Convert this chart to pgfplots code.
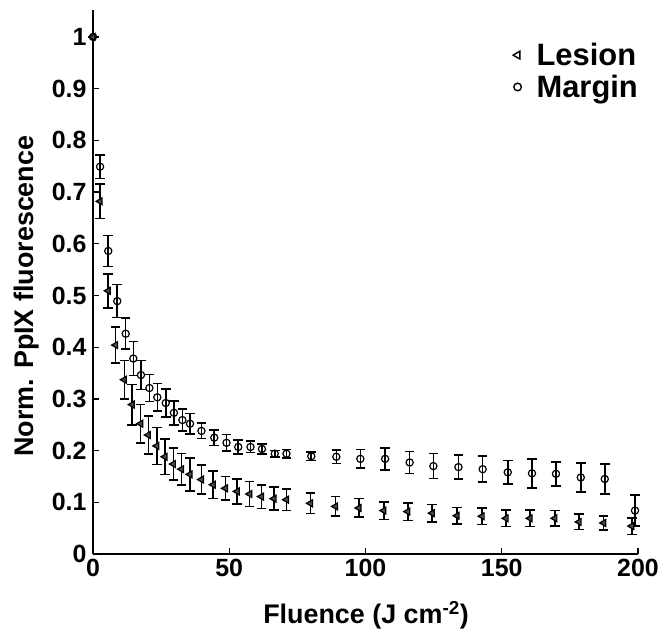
\documentclass[border=0pt]{standalone}
\usepackage{pgfplots}
\pgfplotsset{compat=1.18}
\usepackage{fontspec}
\setmainfont{Liberation Sans}

\pgfplotstableread{
x y e
0 1.0 0
2.6 0.682 0.033
5.6 0.509 0.033
8.3 0.404 0.035
11.5 0.337 0.037
14.4 0.289 0.039
17.5 0.252 0.037
20.3 0.230 0.037
23.4 0.209 0.036
26.4 0.188 0.034
29.5 0.174 0.031
32.5 0.164 0.030
35.6 0.154 0.032
39.8 0.144 0.028
44.1 0.134 0.027
48.6 0.127 0.023
52.9 0.121 0.024
57.5 0.116 0.024
61.8 0.111 0.023
66.4 0.107 0.022
71.0 0.105 0.021
79.8 0.098 0.020
89.0 0.092 0.019
97.6 0.089 0.018
106.7 0.084 0.017
115.5 0.082 0.017
124.5 0.079 0.017
133.6 0.074 0.016
142.8 0.073 0.016
151.6 0.069 0.016
160.4 0.069 0.016
169.5 0.069 0.015
178.4 0.062 0.015
187.4 0.060 0.014
197.7 0.054 0.016
}\lesion

\pgfplotstableread{
x y e
0 1.0 0
2.6 0.749 0.023
5.6 0.586 0.030
8.9 0.489 0.032
12.0 0.426 0.030
14.8 0.378 0.033
17.6 0.346 0.028
20.7 0.321 0.026
23.6 0.303 0.027
26.7 0.292 0.027
29.7 0.273 0.023
32.8 0.259 0.021
35.6 0.252 0.020
39.8 0.238 0.015
44.5 0.225 0.015
49.0 0.215 0.016
53.3 0.207 0.014
57.8 0.207 0.011
62.0 0.203 0.010
66.7 0.194 0.006
71.0 0.194 0.008
80.1 0.189 0.008
89.3 0.188 0.013
98.1 0.184 0.018
107.2 0.184 0.021
116.2 0.177 0.021
124.9 0.170 0.024
134.1 0.168 0.023
143.0 0.164 0.025
152.2 0.158 0.023
161.1 0.156 0.028
169.9 0.155 0.023
179.0 0.148 0.028
187.8 0.145 0.029
198.9 0.084 0.030
}\margin

\begin{document}
\begin{tikzpicture}
\useasboundingbox (-93bp,-80bp) rectangle (572bp,554bp);
\begin{axis}[
  at={(0,0)}, anchor=south west,
  scale only axis, width=545bp, height=544bp,
  xmin=0, xmax=200, ymin=0, ymax=1.052,
  axis x line*=bottom, axis y line*=left,
  axis line style={-, line width=1.6bp},
  xtick={0,50,100,150,200},
  ytick={0,0.1,0.2,0.3,0.4,0.5,0.6,0.7,0.8,0.9,1},
  yticklabels={0,0.1,0.2,0.3,0.4,0.5,0.6,0.7,0.8,0.9,1},
  tick align=inside, major tick length=6bp,
  tick style={line width=1.3bp, black},
  /pgf/number format/assume math mode=true,
  tick label style={font=\bfseries\fontsize{25}{25}\selectfont},
  yticklabel style={xshift=-3bp},
  xticklabel style={yshift=-2bp},
  xlabel={Fluence (J cm\textsuperscript{-2})},
  ylabel={Norm. PpIX fluorescence},
  every axis x label/.style={at={(axis description cs:0.501,-0.127)}, anchor=base, font=\bfseries\fontsize{27}{27}\selectfont},
  every axis y label/.style={at={(axis description cs:-0.110,0.474)}, rotate=90, anchor=base, font=\bfseries\fontsize{27}{27}\selectfont},
  legend style={at={(rel axis cs:1,1)}, anchor=north east, yshift=-29bp, xshift=5bp,
    draw=none, fill=none, font=\bfseries\fontsize{31}{31}\selectfont, row sep=4bp},
  legend cell align=left,
  clip=false,
]
\addplot[only marks, mark=triangle*, mark size=4bp,
  mark options={rotate=90, fill=black!70, line width=1.2bp},
  legend image code/.code={%
    \path[draw=none, fill=none] (-8bp,0bp) (17bp,0bp);
    \draw[mark=triangle, mark size=4.5bp, mark options={rotate=90, line width=1.4bp, fill=white}] plot coordinates {(0bp,0bp)};},
  error bars/.cd, y dir=both, y explicit,
  error bar style={line width=1.6bp, black},
  error mark options={rotate=90, mark size=4.8bp, line width=1.6bp, black},
  ] table[x=x, y=y, y error=e] {\lesion};
\addlegendentry{Lesion}
\addplot[only marks, mark=o, mark size=3.6bp,
  mark options={line width=1.2bp},
  legend image code/.code={%
    \path[draw=none, fill=none] (-8bp,0bp) (17bp,0bp);
    \draw[mark=o, mark size=3.8bp, mark options={line width=1.4bp}] plot coordinates {(0bp,0bp)};},
  error bars/.cd, y dir=both, y explicit,
  error bar style={line width=1.6bp, black},
  error mark options={rotate=90, mark size=4.8bp, line width=1.6bp, black},
  ] table[x=x, y=y, y error=e] {\margin};
\addlegendentry{Margin}
\end{axis}
\end{tikzpicture}
\end{document}
